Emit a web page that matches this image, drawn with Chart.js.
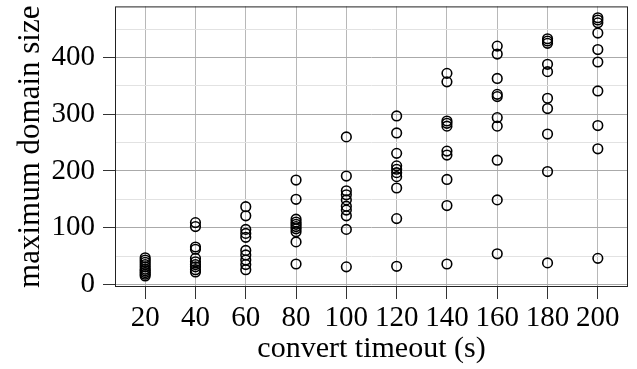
<!DOCTYPE html>
<html lang="en">
<head>
<meta charset="UTF-8">
<title>maximum domain size vs convert timeout</title>
<script src="https://cdn.jsdelivr.net/npm/chart.js"></script>
<style>
  html, body { margin: 0; padding: 0; background: #fff; }
  #wrap { width: 637px; height: 369px; }
</style>
</head>
<body>
<div id="wrap"><canvas id="grafico"></canvas></div>
<script>
// timeouts (s) and the domain sizes reached for each one
var timeouts = [20, 40, 60, 80, 100, 120, 140, 160, 180, 200];
var size20  = [47, 43, 39, 35, 31, 27, 24, 21, 18, 15];
var size40  = [109, 102, 66, 62, 46, 40, 35, 31, 26, 22];
var size60  = [137, 121, 97, 90, 83, 60, 52, 43, 35, 26];
var size80  = [184, 150, 115, 110, 106, 102, 98, 93, 75, 36];
var size100 = [260, 191, 165, 158, 149, 138, 131, 121, 97, 31];
var size120 = [297, 267, 231, 209, 203, 197, 190, 170, 116, 32];
var size140 = [372, 357, 288, 284, 279, 235, 228, 185, 139, 36];
var size160 = [420, 406, 363, 335, 331, 294, 279, 219, 149, 54];
var size180 = [433, 429, 425, 388, 375, 328, 310, 265, 199, 38];
var size200 = [470, 466, 461, 443, 414, 392, 341, 280, 239, 46];

var xTicks = [20, 40, 60, 80, 100, 120, 140, 160, 180, 200];
var yTicks = [0, 50, 100, 150, 200, 250, 300, 350, 400, 450];

var allSizes = [size20, size40, size60, size80, size100, size120, size140, size160, size180, size200];
var pontos = [];
for (var i = 0; i < timeouts.length; i++) {
  for (var j = 0; j < allSizes[i].length; j++) {
    pontos.push({ x: timeouts[i], y: allSizes[i][j] });
  }
}

var fonte = '"Liberation Serif", "Times New Roman", serif';

// black frame round the plot area
var moldura = {
  id: 'moldura',
  afterDraw: function (chart) {
    var a = chart.chartArea;
    var ctx = chart.ctx;
    ctx.save();
    ctx.strokeStyle = '#222';
    ctx.lineWidth = 1;
    ctx.strokeRect(a.left + 0.5, a.top + 0.5, a.right - a.left - 1, a.bottom - a.top - 1);
    ctx.restore();
  }
};

var ctx = document.getElementById('grafico').getContext('2d');
var grafico = new Chart(ctx, {
  type: 'scatter',
  data: {
    datasets: [{
      data: pontos,
      pointRadius: 4.8,
      pointBorderWidth: 1.6,
      pointBackgroundColor: 'rgba(0,0,0,0)',
      pointBorderColor: '#000',
      pointHoverRadius: 4.8
    }]
  },
  options: {
    responsive: true,
    maintainAspectRatio: false,
    animation: false,
    layout: { padding: { left: 0, right: 9, top: 6, bottom: 0 } },
    plugins: {
      legend: { display: false },
      tooltip: { enabled: false }
    },
    scales: {
      x: {
        type: 'linear',
        min: 8,
        max: 212,
        afterBuildTicks: function (axis) {
          axis.ticks = xTicks.map(function (v) { return { value: v }; });
        },
        afterFit: function (scale) {
          scale.height = 82;
          scale.paddingLeft = 0;
          scale.paddingRight = 0;
        },
        border: { display: false },
        grid: {
          color: '#b8b8b8',
          lineWidth: 1,
          tickLength: 12,
          tickColor: '#333'
        },
        ticks: {
          color: '#000',
          padding: 2,
          maxRotation: 0,
          autoSkip: false,
          font: { family: fonte, size: 29 }
        },
        title: {
          display: true,
          text: 'convert timeout (s)',
          color: '#000',
          padding: { top: 0, bottom: 2 },
          font: { family: fonte, size: 30 }
        }
      },
      y: {
        min: -4.5,
        max: 490,
        afterBuildTicks: function (axis) {
          axis.ticks = yTicks.map(function (v) { return { value: v }; });
        },
        afterFit: function (scale) {
          scale.width = 115;
          scale.paddingTop = 0;
          scale.paddingBottom = 0;
        },
        border: { display: false },
        grid: {
          color: function (c) { return c.tick.value % 100 === 0 ? '#aaaaaa' : '#e2e2e2'; },
          lineWidth: 1,
          tickLength: 12,
          tickColor: function (c) { return c.tick.value % 100 === 0 ? '#333' : 'rgba(0,0,0,0)'; }
        },
        ticks: {
          color: '#000',
          padding: 8,
          autoSkip: false,
          font: { family: fonte, size: 29 },
          callback: function (v) { return v % 100 === 0 ? v : ''; }
        },
        title: {
          display: true,
          text: 'maximum domain size',
          color: '#000',
          padding: { top: 12, bottom: 0 },
          font: { family: fonte, size: 31 }
        }
      }
    }
  },
  plugins: [moldura]
});
</script>
</body>
</html>
